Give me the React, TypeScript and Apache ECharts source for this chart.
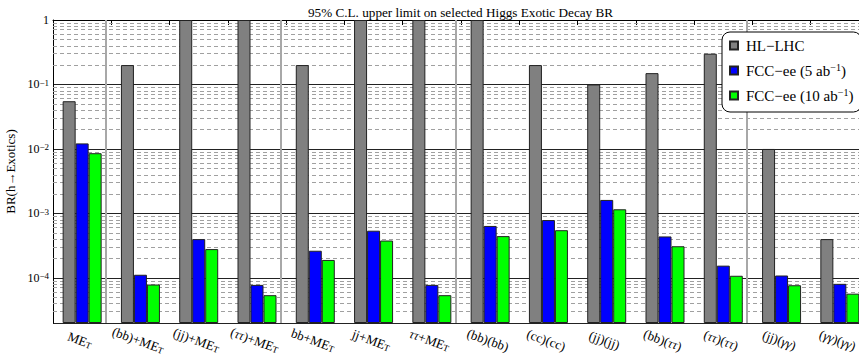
import React, { useEffect, useRef } from 'react';
import * as echarts from 'echarts';

const categories = [
  'MET', '(bb)+MET', '(jj)+MET', '(ττ)+MET', 'bb+MET', 'jj+MET', 'ττ+MET',
  '(bb)(bb)', '(cc)(cc)', '(jj)(jj)', '(bb)(ττ)', '(ττ)(ττ)', '(jj)(γγ)', '(γγ)(γγ)',
];
const seriesNames = ['HL−LHC', 'FCC−ee (5 ab⁻¹)', 'FCC−ee (10 ab⁻¹)'];
const hlLhc = [0.055, 0.2, 1, 1, 0.2, 1, 1, 1, 0.2, 0.1, 0.15, 0.3, 0.01, 4e-4];
const fcc5 = [0.0122, 1.12e-4, 4.0e-4, 7.8e-5, 2.64e-4, 5.4e-4, 7.8e-5, 6.4e-4, 7.9e-4, 1.62e-3, 4.4e-4, 1.55e-4, 1.09e-4, 8.1e-5];
const fcc10 = [0.0086, 7.9e-5, 2.8e-4, 5.4e-5, 1.9e-4, 3.8e-4, 5.4e-5, 4.45e-4, 5.5e-4, 1.16e-3, 3.1e-4, 1.08e-4, 7.7e-5, 5.7e-5];
// group separators: drawn after these category counts
const separatorAfter = [1, 4, 7, 12];
const yMin = 2e-5;
const yMax = 1;

const FONT = "'Liberation Serif', 'DejaVu Serif', serif";

export default function App() {
  const ref = useRef<HTMLDivElement>(null);
  useEffect(() => {
    if (!ref.current) return;
    const chart = echarts.init(ref.current, undefined, { renderer: 'svg' });

    const minorExps: number[] = [];
    for (let e = -5; e <= -1; e++) {
      for (let k = 2; k <= 9; k++) {
        const v = k * Math.pow(10, e);
        if (v > yMin * 1.0001 && v < yMax * 0.9999) minorExps.push(Math.log10(v));
      }
    }

    const catFormatter = (s: string) =>
      s.replace(/MET/g, 'ME{sub|T}').replace(/([τγ])/g, '{g|$1}');

    const yFormatter = (v: number) => {
      const l = Math.log10(v);
      const e = Math.round(l);
      if (Math.abs(l - e) > 1e-6) return '';
      if (e === 0) return '1';
      return `10{sup|−${-e}}`;
    };

    const colors = ['#808080', '#0000ff', '#00ff00'];
    const values = [hlLhc, fcc5, fcc10];

    chart.setOption({
      animation: false,
      title: {
        text: '95% C.L. upper limit on selected Higgs Exotic Decay BR',
        left: 303,
        top: 1,
        textStyle: { fontFamily: FONT, fontSize: 13.2, fontWeight: 'normal', color: '#000' },
      },
      legend: {
        data: seriesNames,
        orient: 'vertical',
        left: 722,
        top: 32,
        padding: [5, 8, 8, 7],
        itemGap: 8,
        itemWidth: 8,
        itemHeight: 8,
        icon: 'rect',
        backgroundColor: '#fff',
        borderColor: '#000',
        borderWidth: 1,
        borderRadius: 8,
        formatter: (name: string) => name.replace('⁻¹', '{sup|−1}'),
        textStyle: {
          fontFamily: FONT,
          fontSize: 15,
          color: '#000',
          lineHeight: 17,
          padding: [0, 0, 0, 3],
          rich: {
            sup: { fontFamily: FONT, fontSize: 10, verticalAlign: 'top', lineHeight: 17, color: '#000' },
          },
        },
      },
      grid: { left: 53, right: -10, top: 20, bottom: 37, outerBoundsMode: 'none', containLabel: false },
      xAxis: [
        {
          type: 'category',
          data: categories,
          boundaryGap: true,
          axisLine: { show: true, lineStyle: { color: '#000', width: 1 } },
          axisTick: { show: true, length: 5, lineStyle: { color: '#000' } },
          splitLine: { show: false },
          axisLabel: {
            interval: 0,
            rotate: -20,
            align: 'center',
            verticalAlign: 'top',
            margin: 11,
            color: '#000',
            fontFamily: FONT,
            fontSize: 13,
            formatter: catFormatter,
            rich: {
              sub: { fontFamily: FONT, fontSize: 9, verticalAlign: 'bottom', color: '#000' },
              g: { fontFamily: FONT, fontSize: 13, fontStyle: 'italic', color: '#000' },
            },
          },
        },
        { type: 'value', min: 0, max: categories.length, show: false },
      ],
      yAxis: [
        {
          type: 'log',
          logBase: 10,
          min: yMin,
          max: yMax,
          startValue: yMin,
          axisLine: { show: true, lineStyle: { color: '#000', width: 1 } },
          axisTick: { show: false },
          splitLine: { show: true, lineStyle: { color: '#222', width: 1 } },
          axisLabel: {
            margin: 4,
            showMinLabel: false,
            color: '#000',
            fontFamily: FONT,
            fontSize: 12,
            formatter: yFormatter,
            rich: {
              sup: { fontFamily: FONT, fontSize: 9, verticalAlign: 'top', color: '#000' },
            },
          },
          name: 'BR(h→Exotics)',
          nameLocation: 'middle',
          nameGap: 31,
          nameTextStyle: { fontFamily: FONT, fontSize: 13, color: '#000' },
        },
        {
          type: 'value',
          min: Math.log10(yMin),
          max: Math.log10(yMax),
          show: false,
          splitLine: { show: false },
        },
      ],
      series: [
        {
          type: 'line',
          xAxisIndex: 1,
          yAxisIndex: 1,
          data: [],
          silent: true,
          z: 1,
          markLine: {
            silent: true,
            symbol: ['none', 'none'],
            label: { show: false },
            animation: false,
            z: 1,
            data: [
              ...minorExps.map((v) => ({
                yAxis: v,
                lineStyle: { color: '#a0a0a0', type: [4, 3], width: 1 },
              })),
              ...separatorAfter.map((i) => ({
                xAxis: i - 0.09,
                lineStyle: { color: '#a8a8a8', type: 'solid', width: 2 },
              })),
            ],
          },
        },
        ...seriesNames.map((name, i) => ({
          name,
          type: 'bar',
          xAxisIndex: 0,
          yAxisIndex: 0,
          data: values[i],
          barWidth: 13,
          barGap: '0%',
          z: 3,
          itemStyle: { color: colors[i], borderColor: '#222', borderWidth: 1 },
        })),
      ],
    });
    return () => chart.dispose();
  }, []);
  return (
    <div
      ref={ref}
      style={{ position: 'fixed', left: 0, top: 0, width: 859, height: 360, background: '#fff' }}
    />
  );
}
